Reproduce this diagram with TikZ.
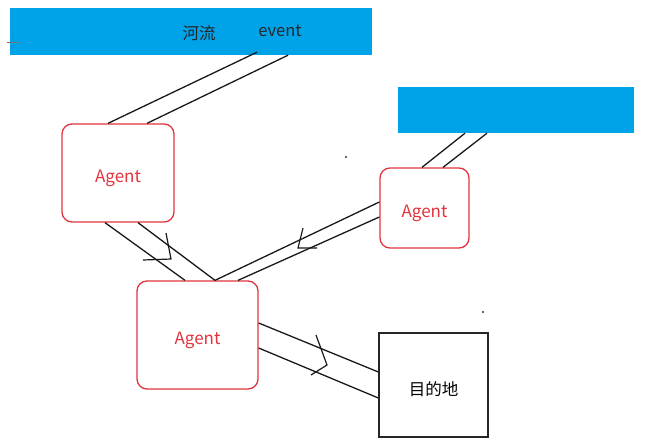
\documentclass[tikz,border=0pt]{standalone}
\usepackage{fontspec}
\setmainfont{Noto Sans CJK SC}
\usepackage{xcolor}
\definecolor{riverblue}{HTML}{00A2E8}
\definecolor{agentred}{HTML}{E2343E}
\usetikzlibrary{positioning,calc}
\tikzset{
  river/.style={fill=riverblue, draw=none, inner sep=0pt},
  agent/.style={draw=agentred, text=agentred, rounded corners=10pt, line width=1.3pt,
                fill=white, inner sep=0pt, text height=18pt, text depth=0pt,
                font=\fontsize{17}{19}\selectfont},
  sink/.style={draw=black!85, line width=1.3pt, fill=white, inner sep=0pt,
               text height=20pt, text depth=0pt, font=\fontsize{16.5}{19}\selectfont},
  lbl/.style={font=\fontsize{16.5}{19}\selectfont, text=black!85, inner sep=0pt},
  ln/.style={draw=black!90, line width=1.3pt},
  chev/.style={draw=black!90, line width=1.2pt},
}

\begin{document}
\begin{tikzpicture}[x=1pt, y=-1pt]
  \useasboundingbox (0,0) rectangle (651,447);
  % sources
  \node[river, minimum width=362pt, minimum height=47pt] (rv) at (191,31.5) {};
  \node[lbl] (rvname) at (199,33) {河流};
  \node[lbl] (ev) at (280,31) {event};
  \node[river, minimum width=236pt, minimum height=46pt] (rv2) at (516,110) {};
  % agents
  \node[agent, minimum width=112pt, minimum height=98pt] (a1) at (118,173) {Agent};
  \node[agent, minimum width=89pt, minimum height=80pt] (a2) at (424.5,208) {Agent};
  \node[agent, minimum width=121pt, minimum height=108pt] (a3) at (197.5,335) {Agent};
  \node[sink, minimum width=109pt, minimum height=104pt] (dst) at (433.5,385) {目的地};
  % channels
  \draw[ln] ([xshift=-10pt]a1.north) -- ([xshift=66pt,yshift=3pt]rv.south);
  \draw[ln] ([xshift=29pt]a1.north) -- ([xshift=97pt]rv.south);
  \draw[ln] ([xshift=-2.5pt]a2.north) -- ([xshift=-51pt]rv2.south);
  \draw[ln] ([xshift=18.5pt]a2.north) -- ([xshift=-29pt]rv2.south);
  \draw[ln] ([xshift=-13pt]a1.south) -- ([xshift=-12.5pt]a3.north);
  \draw[ln] ([xshift=20pt]a1.south) -- ([xshift=17.5pt]a3.north);
  \draw[ln] ([yshift=6pt]a2.west) -- ([xshift=17.5pt]a3.north);
  \draw[ln] ([yshift=-9pt]a2.west) -- ([xshift=40.5pt]a3.north);
  \draw[ln] ([yshift=12pt]a3.east) -- ([yshift=13pt]dst.west);
  \draw[ln] ([yshift=-13pt]a3.east) -- ([yshift=-13pt]dst.west);
  % hand drawn arrow marks
  \draw[chev] (166,233) -- (171,259) -- (143,260);
  \draw[chev] (303,228) -- (298,248) -- (317,248);
  \draw[chev] (316,335) -- (327,365) -- (311,375);
  % stray dots and cursor
  \fill[black!80] (346,157) circle (1.2pt);
  \fill[black!80] (483,312) circle (1.2pt);
  \draw[black!55, line width=0.9pt] (7,42) -- (19,42) (13,36) -- (13,48);
\end{tikzpicture}
\end{document}
